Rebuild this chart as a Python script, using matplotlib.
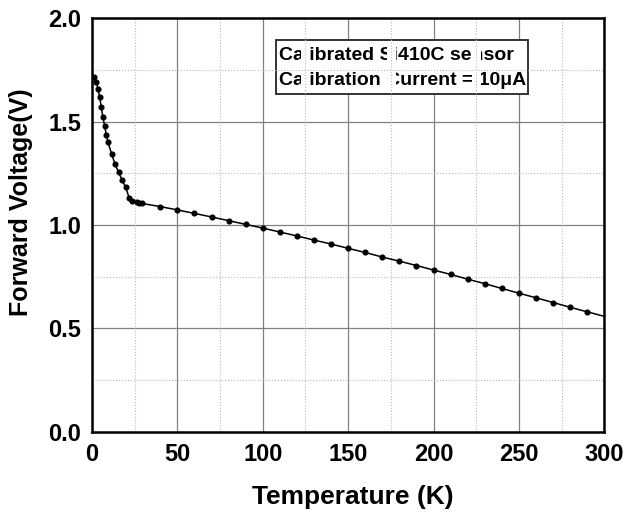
import numpy as np
import matplotlib
matplotlib.use("Agg")
from matplotlib import pyplot as plt
from matplotlib.patches import Rectangle

plt.rcParams['font.family'] = ['Liberation Sans', 'DejaVu Sans']
plt.rcParams['font.weight'] = 'bold'

# calibration data
temps = [1.4, 2.5, 3.5, 4.5, 5.4, 6.4, 7.4, 8.4, 9.4, 11.5, 13.5, 15.6, 17.6,
         19.7, 21.7, 23.6, 26.2, 27.7, 29.5,
         40, 50, 60, 70, 80, 90, 100, 110, 120, 130, 140, 150, 160, 170, 180,
         190, 200, 210, 220, 230, 240, 250, 260, 270, 280, 290, 300]
volts = [1.716, 1.691, 1.659, 1.618, 1.573, 1.521, 1.478, 1.435, 1.400, 1.343,
         1.295, 1.254, 1.218, 1.182, 1.133, 1.117, 1.109, 1.105, 1.104,
         1.089, 1.073, 1.056, 1.039, 1.021, 1.003, 0.985, 0.966, 0.947, 0.927,
         0.908, 0.887, 0.867, 0.845, 0.825, 0.804, 0.782, 0.761, 0.738, 0.716,
         0.693, 0.670, 0.648, 0.625, 0.602, 0.580, 0.558]

x_ticks = [0, 50, 100, 150, 200, 250, 300]
y_ticks = [0.0, 0.5, 1.0, 1.5, 2.0]
x_minor = [25, 75, 125, 175, 225, 275]
y_minor = [0.25, 0.75, 1.25, 1.75]

label_lines = ["Calibrated Si410C sensor", "Calibration Current = 10\u03bcA"]

fig = plt.figure(figsize=(6.38, 5.12), dpi=100)
ax = fig.add_axes([0.1442, 0.1568, 0.803, 0.8075])

ax.set_xlim(0, 300)
ax.set_ylim(0, 2.0)
ax.set_xticks(x_ticks)
ax.set_yticks(y_ticks)
ax.set_yticklabels(["%.1f" % v for v in y_ticks])
ax.tick_params(length=0, labelsize=17, pad=8)
for lab in ax.get_xticklabels() + ax.get_yticklabels():
    lab.set_fontweight('bold')

# major grid behind everything
ax.set_axisbelow(True)
ax.grid(True, which='major', color='#808080', lw=0.9, ls='-')

# legend-like text box
box = Rectangle((107.7, 1.634), 147.6, 0.26, facecolor='white',
                edgecolor='#333333', lw=1.4, zorder=1)
ax.add_patch(box)
ax.text(109.5, 1.822, label_lines[0], fontsize=14, fontweight='bold',
        va='center', ha='left', zorder=1.5)
ax.text(109.5, 1.698, label_lines[1], fontsize=14, fontweight='bold',
        va='center', ha='left', zorder=1.5)

# minor gridlines sit on top of the box text (with white halo inside the box)
for xm in x_minor:
    ax.plot([xm, xm], [1.645, 1.883], color='white', lw=6.5, zorder=2,
            solid_capstyle='butt')
    ax.axvline(xm, color='#b8b8b8', lw=0.8, ls=':', zorder=2.5)
for ym in y_minor:
    ax.axhline(ym, color='#b8b8b8', lw=0.8, ls=':', zorder=2.5)

ax.plot(temps, volts, color='black', lw=1.1, marker='o', ms=3.4,
        markevery=list(range(len(temps) - 1)), zorder=3)

for sp in ax.spines.values():
    sp.set_linewidth(1.8)
    sp.set_zorder(4)

ax.set_xlabel("Temperature (K)", fontsize=19, fontweight='bold', labelpad=14)
ax.set_ylabel("Forward Voltage(V)", fontsize=18, fontweight='bold', labelpad=11)
ax.yaxis.label.set_y(0.554)
ax.xaxis.label.set_x(0.51)

fig.savefig("out.png", dpi=100)
